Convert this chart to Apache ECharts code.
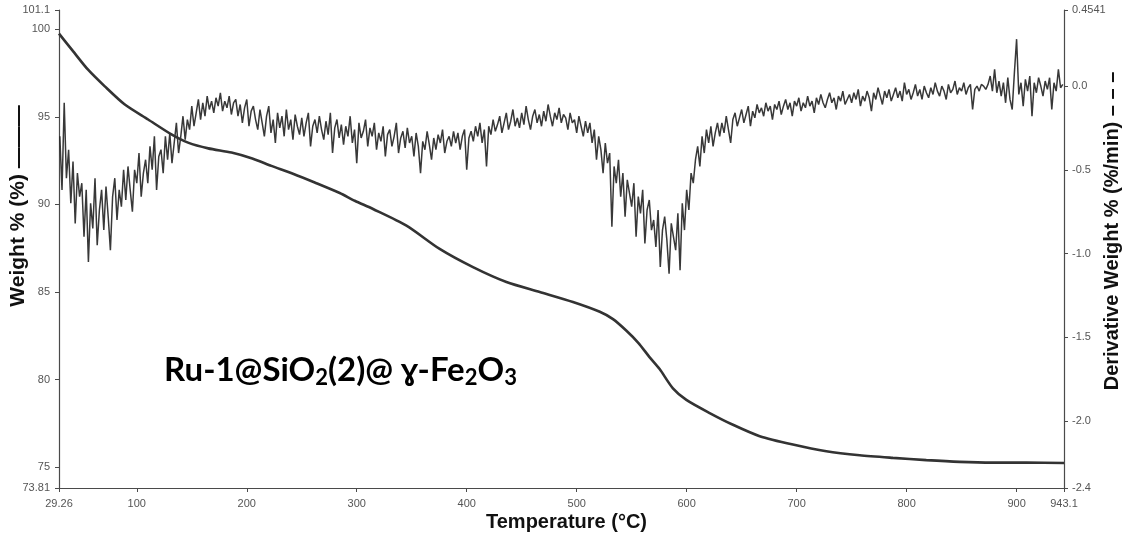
<!DOCTYPE html>
<html>
<head>
<meta charset="utf-8">
<script src="https://cdn.jsdelivr.net/npm/echarts@6/dist/echarts.min.js"></script>
<style>
html,body{margin:0;padding:0;background:#fff;}
#chart{width:1133px;height:537px;}
</style>
</head>
<body>
<div id="chart"></div>
<script>
// ---- Data ----
const xTicks = [29.26, 100, 200, 300, 400, 500, 600, 700, 800, 900, 943.1];
const leftTicks = [73.81, 75, 80, 85, 90, 95, 100, 101.1];
const rightTicks = [-2.4, -2.0, -1.5, -1.0, -0.5, 0.0, 0.4541];

// Weight % (solid curve)
const weightTemps = [29.26, 42, 55.7, 70.9, 89.1, 110.3, 131.5, 146.6, 165, 186.1, 205, 222.4, 242, 261.8, 284.5, 298.2, 314.8, 345.2, 375.4, 405.7, 436.1, 466.4, 496.6, 521, 533, 545, 556, 566, 575.4, 587.5, 599.7, 620.9, 642.1, 666.4, 696.6, 727, 757.3, 787.5, 817.9, 848.2, 878.4, 908.8, 943.1];
const weightValues = [99.75, 98.75, 97.69, 96.74, 95.7, 94.85, 94.0, 93.53, 93.2, 92.96, 92.62, 92.2, 91.75, 91.25, 90.65, 90.21, 89.74, 88.79, 87.46, 86.42, 85.57, 85.0, 84.43, 83.87, 83.45, 82.8, 82.1, 81.3, 80.6, 79.5, 78.84, 78.09, 77.42, 76.77, 76.29, 75.91, 75.68, 75.53, 75.40, 75.30, 75.26, 75.26, 75.24];

const derivStartT = 30;
const derivStepT = 2;
const derivValues = [
-0.30,-0.62,-0.10,-0.55,-0.38,-0.70,-0.45,-0.82,-0.52,-0.66,
-0.58,-0.90,-0.62,-1.05,-0.70,-0.85,-0.55,-0.95,-0.74,-0.62,
-0.86,-0.60,-0.78,-0.98,-0.66,-0.55,-0.80,-0.62,-0.72,-0.50,
-0.68,-0.48,-0.62,-0.75,-0.50,-0.58,-0.40,-0.66,-0.52,-0.44,
-0.58,-0.36,-0.50,-0.30,-0.62,-0.42,-0.38,-0.52,-0.30,-0.44,
-0.28,-0.46,-0.34,-0.22,-0.40,-0.30,-0.18,-0.32,-0.20,-0.26,
-0.12,-0.24,-0.16,-0.08,-0.20,-0.10,-0.18,-0.06,-0.14,-0.09,
-0.16,-0.07,-0.12,-0.04,-0.15,-0.09,-0.13,-0.06,-0.17,-0.10,
-0.08,-0.18,-0.11,-0.22,-0.13,-0.08,-0.24,-0.15,-0.12,-0.20,
-0.26,-0.14,-0.22,-0.30,-0.18,-0.12,-0.28,-0.20,-0.34,-0.16,
-0.25,-0.18,-0.30,-0.14,-0.26,-0.20,-0.32,-0.17,-0.24,-0.29,
-0.19,-0.30,-0.22,-0.16,-0.36,-0.24,-0.20,-0.28,-0.18,-0.26,
-0.32,-0.21,-0.29,-0.16,-0.40,-0.25,-0.20,-0.31,-0.23,-0.35,
-0.24,-0.30,-0.18,-0.34,-0.26,-0.46,-0.22,-0.31,-0.27,-0.20,
-0.36,-0.25,-0.30,-0.22,-0.38,-0.28,-0.33,-0.24,-0.42,-0.29,
-0.26,-0.36,-0.30,-0.22,-0.40,-0.31,-0.27,-0.37,-0.25,-0.34,
-0.30,-0.42,-0.28,-0.36,-0.52,-0.33,-0.38,-0.27,-0.35,-0.44,
-0.31,-0.38,-0.29,-0.34,-0.26,-0.40,-0.33,-0.30,-0.36,-0.27,
-0.34,-0.28,-0.38,-0.30,-0.26,-0.50,-0.31,-0.27,-0.33,-0.24,
-0.30,-0.22,-0.34,-0.26,-0.48,-0.24,-0.29,-0.20,-0.27,-0.23,
-0.18,-0.28,-0.22,-0.16,-0.26,-0.21,-0.14,-0.24,-0.19,-0.25,
-0.16,-0.23,-0.12,-0.20,-0.26,-0.18,-0.14,-0.22,-0.17,-0.24,
-0.15,-0.21,-0.11,-0.18,-0.24,-0.16,-0.20,-0.13,-0.22,-0.17,
-0.19,-0.26,-0.16,-0.22,-0.20,-0.28,-0.18,-0.24,-0.30,-0.21,
-0.28,-0.22,-0.34,-0.26,-0.44,-0.30,-0.38,-0.52,-0.34,-0.46,
-0.40,-0.84,-0.48,-0.58,-0.44,-0.66,-0.52,-0.78,-0.56,-0.64,
-0.72,-0.58,-0.90,-0.66,-0.76,-0.62,-0.94,-0.74,-0.68,-0.86,
-0.80,-0.96,-0.74,-1.08,-0.86,-0.78,-0.92,-1.12,-0.82,-0.90,
-0.98,-0.76,-1.10,-0.70,-0.86,-0.62,-0.74,-0.52,-0.58,-0.44,
-0.36,-0.48,-0.30,-0.40,-0.26,-0.34,-0.24,-0.36,-0.28,-0.22,
-0.30,-0.22,-0.28,-0.18,-0.26,-0.34,-0.20,-0.16,-0.24,-0.19,
-0.14,-0.22,-0.17,-0.12,-0.24,-0.15,-0.19,-0.11,-0.16,-0.13,
-0.18,-0.10,-0.15,-0.12,-0.20,-0.11,-0.14,-0.09,-0.17,-0.12,
-0.08,-0.14,-0.10,-0.18,-0.09,-0.12,-0.07,-0.15,-0.10,-0.13,
-0.06,-0.12,-0.09,-0.16,-0.07,-0.11,-0.05,-0.10,-0.13,-0.08,
-0.04,-0.10,-0.07,-0.14,-0.06,-0.09,-0.03,-0.11,-0.08,-0.05,
-0.10,-0.04,-0.08,-0.02,-0.12,-0.06,-0.09,-0.03,-0.07,-0.15,
-0.04,-0.08,-0.01,-0.06,-0.11,-0.03,-0.07,-0.02,-0.09,-0.05,
-0.01,-0.07,-0.03,-0.09,0.02,-0.05,-0.02,-0.08,-0.04,0.01,
-0.06,-0.02,-0.08,0.00,-0.04,-0.07,-0.01,-0.05,0.02,-0.03,
-0.06,0.00,-0.03,-0.08,0.01,-0.04,-0.02,0.03,-0.05,-0.01,
-0.03,0.02,-0.05,-0.01,0.01,-0.14,-0.02,0.00,-0.03,0.01,
0.00,-0.02,0.01,0.06,-0.03,0.10,-0.04,0.03,-0.06,0.02,
-0.10,0.05,-0.08,-0.14,0.08,0.28,-0.05,0.02,-0.12,0.04,
-0.03,0.06,-0.18,0.02,-0.04,0.05,0.00,-0.06,0.03,-0.02,
0.05,-0.14,0.02,-0.03,0.10,-0.01,0.01
];

const xAxisTitle = 'Temperature (°C)';
const leftAxisTitle = 'Weight % (%) ———';
const rightAxisTitle = 'Derivative Weight % (%/min) – – –';
const sampleLabelRich = 'Ru-1@SiO{sub|2}(2)@ ɣ-Fe{sub|2}O{sub|3}';

// ---- Build ----
const weightData = weightTemps.map((t, i) => [t, weightValues[i]]);
const derivData = derivValues.map((v, i) => [derivStartT + i * derivStepT, v]);

const axisCol = '#4a4a4a';
const labelStyle = { color: '#555', fontSize: 11, fontFamily: '"Liberation Sans", Arial, sans-serif' };
const titleFont = '"Liberation Sans", Arial, sans-serif';
const annFont = 'Lato, "Noto Sans", sans-serif';

const chart = echarts.init(document.getElementById('chart'), null, { renderer: 'canvas' });
chart.setOption({
  animation: false,
  backgroundColor: '#fff',
  grid: { left: 59, right: 69, top: 10, bottom: 49, containLabel: false },
  xAxis: {
    type: 'value', min: 29.26, max: 943.1,
    axisLine: { show: true, onZero: false, lineStyle: { color: axisCol, width: 1.2 } },
    axisTick: { show: true, length: 4, lineStyle: { color: axisCol }, customValues: xTicks },
    axisLabel: Object.assign({ margin: 10, customValues: xTicks, showMinLabel: true, showMaxLabel: true,
      formatter: v => String(v) }, labelStyle),
    splitLine: { show: false }
  },
  yAxis: [
    {
      type: 'value', min: 73.81, max: 101.1, position: 'left',
      axisLine: { show: true, onZero: false, lineStyle: { color: axisCol, width: 1.2 } },
      axisTick: { show: true, length: 4, lineStyle: { color: axisCol }, customValues: leftTicks },
      axisLabel: Object.assign({ margin: 9, customValues: leftTicks, formatter: v => String(v) }, labelStyle),
      splitLine: { show: false }
    },
    {
      type: 'value', min: -2.4, max: 0.4541, position: 'right',
      axisLine: { show: true, onZero: false, lineStyle: { color: axisCol, width: 1.2 } },
      axisTick: { show: true, length: 4, lineStyle: { color: axisCol }, customValues: rightTicks },
      axisLabel: Object.assign({ margin: 8, customValues: rightTicks,
        formatter: v => (Math.abs(v - 0.4541) < 1e-6 ? '0.4541' : Number(v).toFixed(1)) }, labelStyle),
      splitLine: { show: false }
    }
  ],
  series: [
    {
      name: 'Derivative', type: 'line', yAxisIndex: 1, data: derivData,
      showSymbol: false, symbol: 'none', smooth: false,
      lineStyle: { color: '#222', width: 1.5, opacity: 0.9 },
      z: 2
    },
    {
      name: 'Weight', type: 'line', yAxisIndex: 0, data: weightData,
      showSymbol: false, symbol: 'none', smooth: 0.25,
      lineStyle: { color: '#333', width: 2.6 },
      z: 3
    }
  ],
  graphic: [
    { type: 'text', left: 'center', top: 512,
      style: { text: xAxisTitle, font: 'bold 20px ' + titleFont, fill: '#111' } },
    { type: 'text', x: 18, y: 206, rotation: Math.PI / 2,
      style: { text: leftAxisTitle, font: 'bold 21px ' + titleFont, fill: '#111', align: 'center', verticalAlign: 'middle' } },
    { type: 'text', x: 1112, y: 231, rotation: Math.PI / 2,
      style: { text: rightAxisTitle, font: 'bold 20px ' + titleFont, fill: '#111', align: 'center', verticalAlign: 'middle' } },
    { type: 'text', x: 164, y: 370,
      style: {
        text: sampleLabelRich, fill: '#000', align: 'left', verticalAlign: 'middle',
        fontFamily: annFont, fontWeight: 'bold', fontSize: 33, lineHeight: 37,
        rich: { sub: { fontFamily: annFont, fontWeight: 'bold', fontSize: 22, lineHeight: 25, fill: '#000', verticalAlign: 'bottom', padding: [14, 0, 0, 0] } }
      } }
  ]
});
</script>
</body>
</html>
